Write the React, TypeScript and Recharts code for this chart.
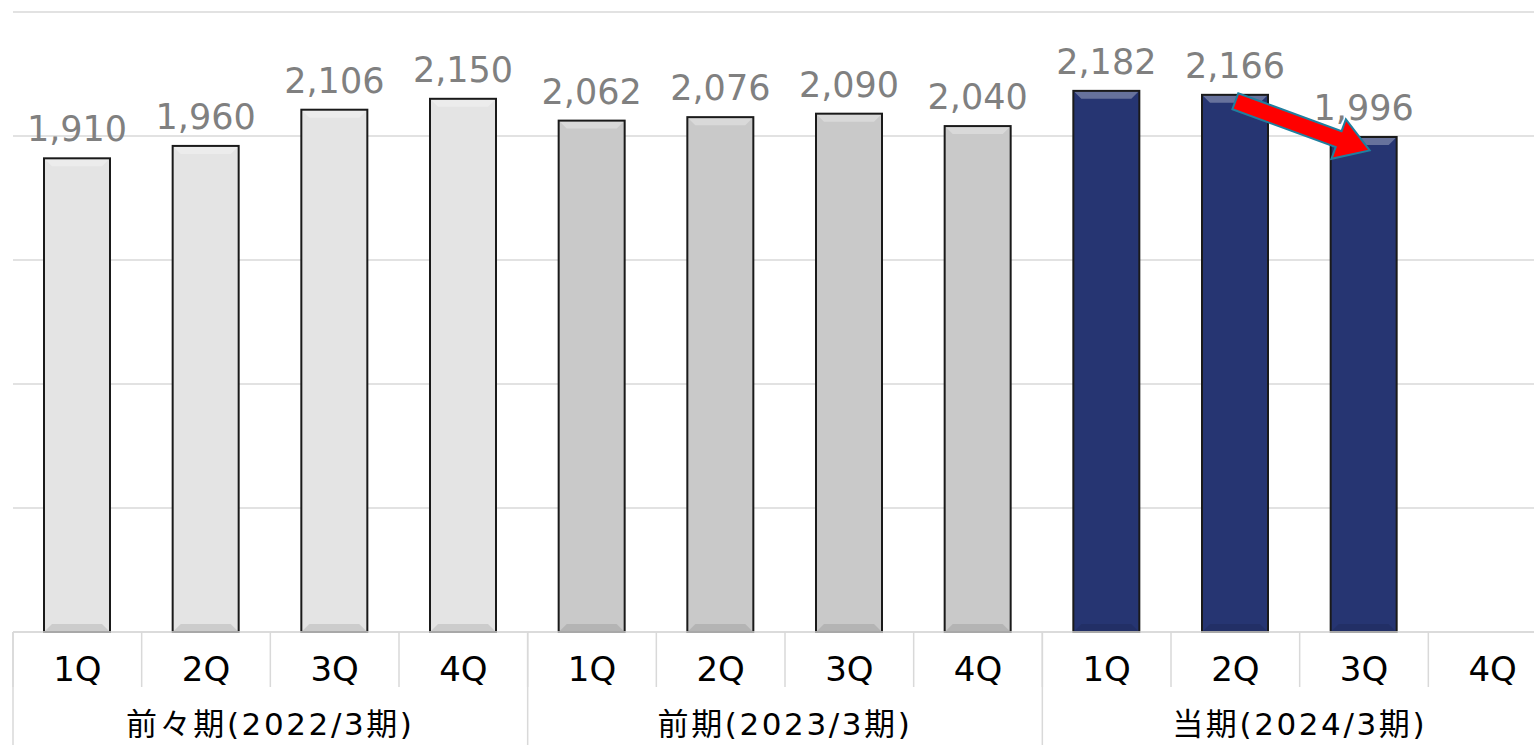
import { Bar, BarChart, CartesianGrid, Cell, LabelList, ReferenceLine, XAxis, YAxis } from "recharts";

const FONT = "'DejaVu Sans', 'Noto Sans CJK JP', sans-serif";
const GRID = "#d9d9d9";
const LABEL_GRAY = "#808080";

const GROUPS = ["前々期(2022/3期)", "前期(2023/3期)", "当期(2024/3期)"];
const QUARTERS = ["1Q", "2Q", "3Q", "4Q"];
const SALES_PREV2 = [1910, 1960, 2106, 2150];
const SALES_PREV = [2062, 2076, 2090, 2040];
const SALES_CUR: (number | null)[] = [2182, 2166, 1996, null];
const GROUP_COLORS = ["#e4e4e4", "#c9c9c9", "#263572"];
const Y_TICKS = [0, 500, 1000, 1500, 2000, 2500];
// arrow from 当期 2Q down to 3Q
const ARROW_FROM = { key: "2-2Q", value: 2140 };
const ARROW_TO = { key: "2-3Q", value: 1950 };

const CHART_W = 1558;
const CHART_H = 745;
const MARGIN = { top: 12, right: 1, left: 13, bottom: 0 };
const PLOT_W = CHART_W - MARGIN.left - MARGIN.right;
const TIER1_H = 55;
const TIER2_H = 58;

const seriesByGroup = [SALES_PREV2, SALES_PREV, SALES_CUR];
const data = GROUPS.flatMap((g, gi) =>
  QUARTERS.map((q, qi) => ({
    key: `${gi}-${q}`,
    quarter: q,
    group: g,
    groupIndex: gi,
    value: seriesByGroup[gi][qi],
  }))
);
const STEP = PLOT_W / data.length;

function BevelBar(props: any) {
  const { x, y, width, height, fill } = props;
  if (height == null || height <= 0) return null;
  const b = Math.min(8, height / 2);
  return (
    <g>
      <rect x={x} y={y} width={width} height={height} fill={fill} />
      <polygon
        points={`${x},${y} ${x + width},${y} ${x + width - b},${y + b} ${x + b},${y + b}`}
        fill="#ffffff"
        fillOpacity={0.3}
      />
      <polygon
        points={`${x},${y + height} ${x + width},${y + height} ${x + width - b},${y + height - b} ${x + b},${y + height - b}`}
        fill="#000000"
        fillOpacity={0.1}
      />
      <rect x={x} y={y} width={width} height={height} fill="none" stroke="#1a1a1a" strokeWidth={2} />
    </g>
  );
}

function QuarterTick(props: any) {
  const { x, y, payload, index } = props;
  const left = x - STEP / 2;
  return (
    <g>
      <line x1={left} y1={y} x2={left} y2={y + TIER1_H} stroke={GRID} strokeWidth={1.5} />
      {index === data.length - 1 && (
        <line x1={x + STEP / 2} y1={y} x2={x + STEP / 2} y2={y + TIER1_H} stroke={GRID} strokeWidth={1.5} />
      )}
      <text x={x} y={y + 49} textAnchor="middle" fill="#000" fontSize={34} fontFamily={FONT}>
        {data[index]?.quarter ?? payload.value}
      </text>
    </g>
  );
}

function GroupTick(props: any) {
  const { x, y, index } = props;
  if (index % QUARTERS.length !== 0) return null;
  const left = x - STEP / 2;
  const center = left + (STEP * QUARTERS.length) / 2;
  const isLast = index + QUARTERS.length >= data.length;
  return (
    <g>
      <line x1={left} y1={y - TIER1_H} x2={left} y2={y + TIER2_H} stroke={GRID} strokeWidth={1.5} />
      {isLast && (
        <line
          x1={left + STEP * QUARTERS.length}
          y1={y - TIER1_H}
          x2={left + STEP * QUARTERS.length}
          y2={y + TIER2_H}
          stroke={GRID}
          strokeWidth={1.5}
        />
      )}
      <text x={center} y={y + 48} textAnchor="middle" fill="#000" fontSize={31} letterSpacing={2.6} fontFamily={FONT}>
        {data[index].group}
      </text>
    </g>
  );
}

function Arrow(props: any) {
  const { x1, y1, x2, y2 } = props;
  const dx = x2 - x1;
  const dy = y2 - y1;
  const len = Math.sqrt(dx * dx + dy * dy);
  const ux = dx / len;
  const uy = dy / len;
  const nx = -uy;
  const ny = ux;
  const shaft = 8.5;
  const headW = 21;
  const headL = 33;
  const ex = x2 + ux * 6;
  const ey = y2 + uy * 6;
  const bx = ex - ux * headL;
  const by = ey - uy * headL;
  const pts = [
    [x1 + nx * shaft, y1 + ny * shaft],
    [bx + nx * shaft, by + ny * shaft],
    [bx + nx * headW, by + ny * headW],
    [ex, ey],
    [bx - nx * headW, by - ny * headW],
    [bx - nx * shaft, by - ny * shaft],
    [x1 - nx * shaft, y1 - ny * shaft],
  ]
    .map((p) => p.join(","))
    .join(" ");
  return <polygon points={pts} fill="#ff0000" stroke="#1f7f9f" strokeWidth={2} strokeLinejoin="miter" />;
}

export default function App() {
  return (
    <div style={{ position: "absolute", left: 0, top: 0, width: 1534, height: 745, overflow: "hidden", background: "#fff" }}>
      <BarChart width={CHART_W} height={CHART_H} data={data} margin={MARGIN} barSize={66}>
        <CartesianGrid vertical={false} stroke={GRID} strokeWidth={1.5} />
        <YAxis hide domain={[0, 2500]} ticks={Y_TICKS} />
        <XAxis
          dataKey="key"
          interval={0}
          height={TIER1_H}
          tickSize={0}
          tickMargin={0}
          tickLine={false}
          axisLine={{ stroke: GRID, strokeWidth: 1.5 }}
          tick={<QuarterTick />}
        />
        <XAxis
          xAxisId="group"
          dataKey="key"
          interval={0}
          height={TIER2_H}
          tickSize={0}
          tickMargin={0}
          tickLine={false}
          axisLine={false}
          tick={<GroupTick />}
        />
        <Bar dataKey="value" shape={<BevelBar />} isAnimationActive={false}>
          {data.map((d, i) => (
            <Cell key={i} fill={GROUP_COLORS[d.groupIndex]} />
          ))}
          <LabelList
            dataKey="value"
            position="top"
            offset={17}
            fill={LABEL_GRAY}
            fontSize={35}
            fontFamily={FONT}
            formatter={(v: any) => (v == null ? "" : Number(v).toLocaleString("en-US"))}
          />
        </Bar>
        <ReferenceLine
          segment={[
            { x: ARROW_FROM.key, y: ARROW_FROM.value },
            { x: ARROW_TO.key, y: ARROW_TO.value },
          ]}
          shape={<Arrow />}
        />
      </BarChart>
    </div>
  );
}
